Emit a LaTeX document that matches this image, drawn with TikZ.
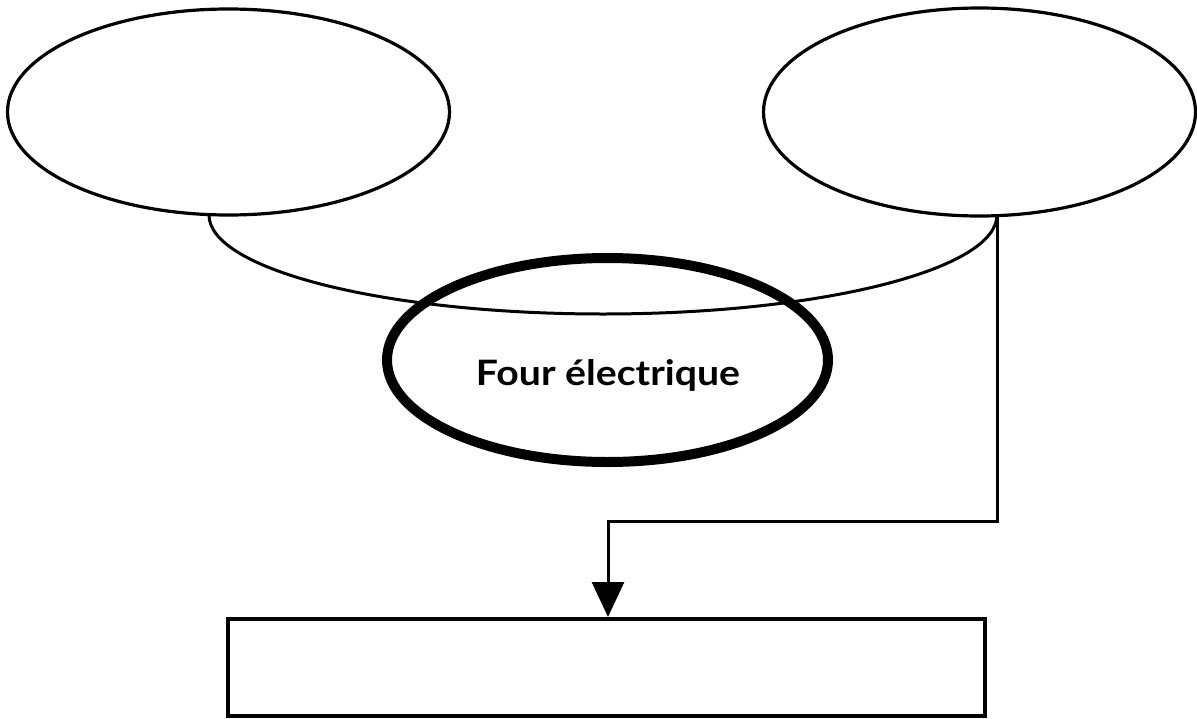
\documentclass[tikz,border=0pt]{standalone}
\usepackage{fontspec}
\setmainfont{Lato}
\usetikzlibrary{shapes.geometric,arrows.meta}
\begin{document}
\begin{tikzpicture}[x=1pt,y=-1pt,
  oval/.style={draw,ellipse,line width=3.2pt,inner sep=0pt},
  thickoval/.style={draw,ellipse,line width=10pt,inner sep=0pt},
  link/.style={line width=3pt},
  outbox/.style={draw,rectangle,line width=4pt,inner sep=0pt}]
\useasboundingbox (0,0) rectangle (1197,718);
\node[oval,minimum width=442pt,minimum height=206pt] (L) at (228.5,112) {};
\node[oval,minimum width=432pt,minimum height=208pt] (R) at (979.5,112) {};
\coordinate (a1) at (209,215);
\coordinate (a2) at (997,215);
\draw[link] (a1) arc[start angle=180,end angle=0,x radius=394,y radius=99];
\node[thickoval,minimum width=441pt,minimum height=204pt] (F) at (607.5,360) {};
\node[font=\fontsize{35}{42}\selectfont\bfseries,inner sep=0pt,anchor=base] (T) at (608,385) {\scalebox{1.12}[1]{Four électrique}};
\node[outbox,minimum width=757pt,minimum height=97pt] (B) at (606.5,667.5) {};
\coordinate (k) at (608,521);
\draw[link,-{Triangle[length=35pt,width=32pt]}] (a2) |- (k) -- (k |- B.north);
\end{tikzpicture}
\end{document}
